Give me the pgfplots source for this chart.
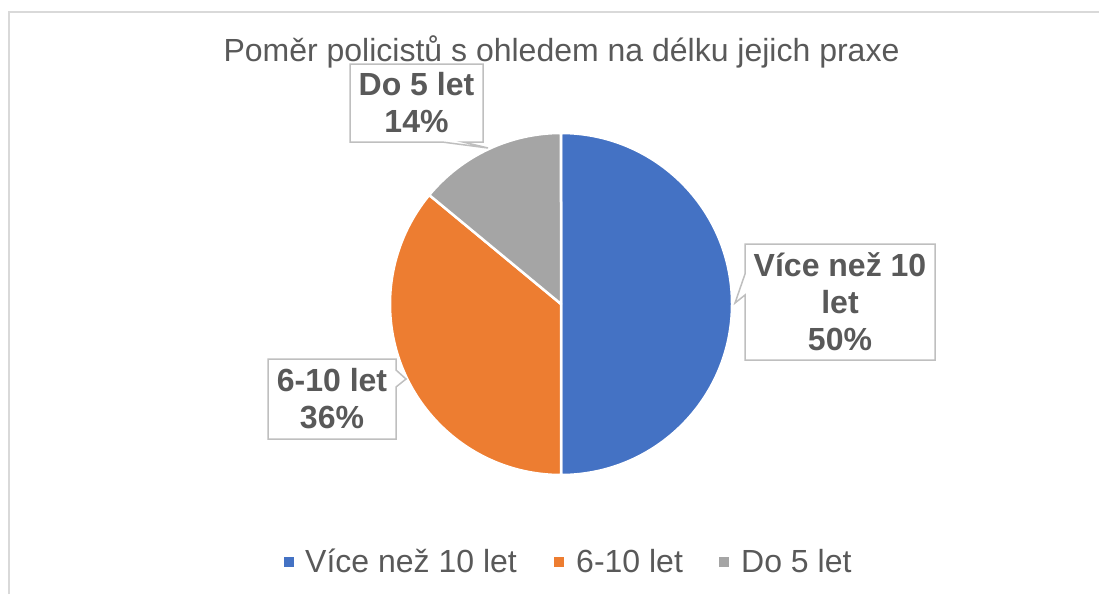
\documentclass[border=0pt]{standalone}
\usepackage{pgfplots}
\pgfplotsset{compat=1.18}
\usepackage{pgfplotstable}
\usepackage{fontspec}
\setmainfont{Liberation Sans}
\definecolor{cA}{HTML}{4472C4}
\definecolor{cB}{HTML}{ED7D31}
\definecolor{cC}{HTML}{A5A5A5}
\definecolor{txt}{HTML}{595959}
\definecolor{boxc}{HTML}{BFBFBF}
\definecolor{framec}{HTML}{D9D9D9}

\pgfplotstableread[col sep=comma]{
label,value
Více než 10 let,50
6-10 let,36
Do 5 let,14
}\piedata

\begin{document}
\begin{tikzpicture}
\pgfplotstablegetelem{0}{value}\of\piedata \let\vA\pgfplotsretval
\pgfplotstablegetelem{1}{value}\of\piedata \let\vB\pgfplotsretval
\pgfplotstablegetelem{2}{value}\of\piedata \let\vC\pgfplotsretval
\pgfmathsetmacro{\tot}{\vA+\vB+\vC}
\pgfmathsetmacro{\aA}{90}
\pgfmathsetmacro{\aB}{\aA-\vA/\tot*360}
\pgfmathsetmacro{\aC}{\aB-\vB/\tot*360}
\pgfmathsetmacro{\aD}{\aC-\vC/\tot*360}
\begin{axis}[name=ax, at={(0,0)}, anchor=south west, scale only axis,
  width=1099pt, height=594pt, xmin=0, xmax=1099, ymin=0, ymax=594,
  y dir=reverse, hide axis, clip=false]
 % frame
 \draw[framec, line width=1.5pt] (axis cs:9,594) -- (axis cs:9,12) -- (axis cs:1099,12);
 % title
 \node[anchor=base, inner sep=0, text=txt, font=\fontsize{32}{38}\selectfont]
   at (axis cs:561.5,61) {Poměr policistů s ohledem na délku jejich praxe};
 % slices
 \fill[cA, draw=white, line width=2.5pt, line join=round] (axis cs:561,304) -- ++(\aA:171pt)
   arc[start angle=\aA, end angle=\aB, radius=171pt] -- cycle;
 \fill[cB, draw=white, line width=2.5pt, line join=round] (axis cs:561,304) -- ++(\aB:171pt)
   arc[start angle=\aB, end angle=\aC, radius=171pt] -- cycle;
 \fill[cC, draw=white, line width=2.5pt, line join=round] (axis cs:561,304) -- ++(\aC:171pt)
   arc[start angle=\aC, end angle=\aD, radius=171pt] -- cycle;
 % callouts
 \filldraw[fill=white, draw=boxc, line width=1.5pt, line join=miter]
   (axis cs:350,64) -- (axis cs:483,64) -- (axis cs:483,142) -- (axis cs:463,142)
   -- (axis cs:488,148) -- (axis cs:442,142) -- (axis cs:350,142) -- cycle;
 \filldraw[fill=white, draw=boxc, line width=1.5pt, line join=miter]
   (axis cs:745,244) -- (axis cs:935,244) -- (axis cs:935,360) -- (axis cs:745,360)
   -- (axis cs:745,295) -- (axis cs:735,303) -- (axis cs:745,274) -- cycle;
 \filldraw[fill=white, draw=boxc, line width=1.5pt, line join=miter]
   (axis cs:268,359) -- (axis cs:396,359) -- (axis cs:396,370) -- (axis cs:406,379)
   -- (axis cs:396,387) -- (axis cs:396,439) -- (axis cs:268,439) -- cycle;
 \node[align=center, inner sep=0, text=txt, font=\bfseries\fontsize{32}{37}\selectfont]
   at (axis cs:416.5,103) {Do 5 let\\14\%};
 \node[align=center, inner sep=0, text=txt, font=\bfseries\fontsize{32}{37}\selectfont]
   at (axis cs:840,302) {Více než 10\\let\\50\%};
 \node[align=center, inner sep=0, text=txt, font=\bfseries\fontsize{32}{37}\selectfont]
   at (axis cs:332,399) {6-10 let\\36\%};
 % legend
 \fill[cA] (axis cs:284,557) rectangle (axis cs:294,567);
 \fill[cB] (axis cs:554,557) rectangle (axis cs:564,567);
 \fill[cC] (axis cs:719,557) rectangle (axis cs:729,567);
 \node[anchor=base west, inner sep=0, text=txt, font=\fontsize{32}{38}\selectfont]
   at (axis cs:305,572) {Více než 10 let};
 \node[anchor=base west, inner sep=0, text=txt, font=\fontsize{32}{38}\selectfont]
   at (axis cs:576,572) {6-10 let};
 \node[anchor=base west, inner sep=0, text=txt, font=\fontsize{32}{38}\selectfont]
   at (axis cs:741,572) {Do 5 let};
\end{axis}
\pgfresetboundingbox
\path (ax.south west) rectangle (ax.north east);
\end{tikzpicture}
\end{document}
